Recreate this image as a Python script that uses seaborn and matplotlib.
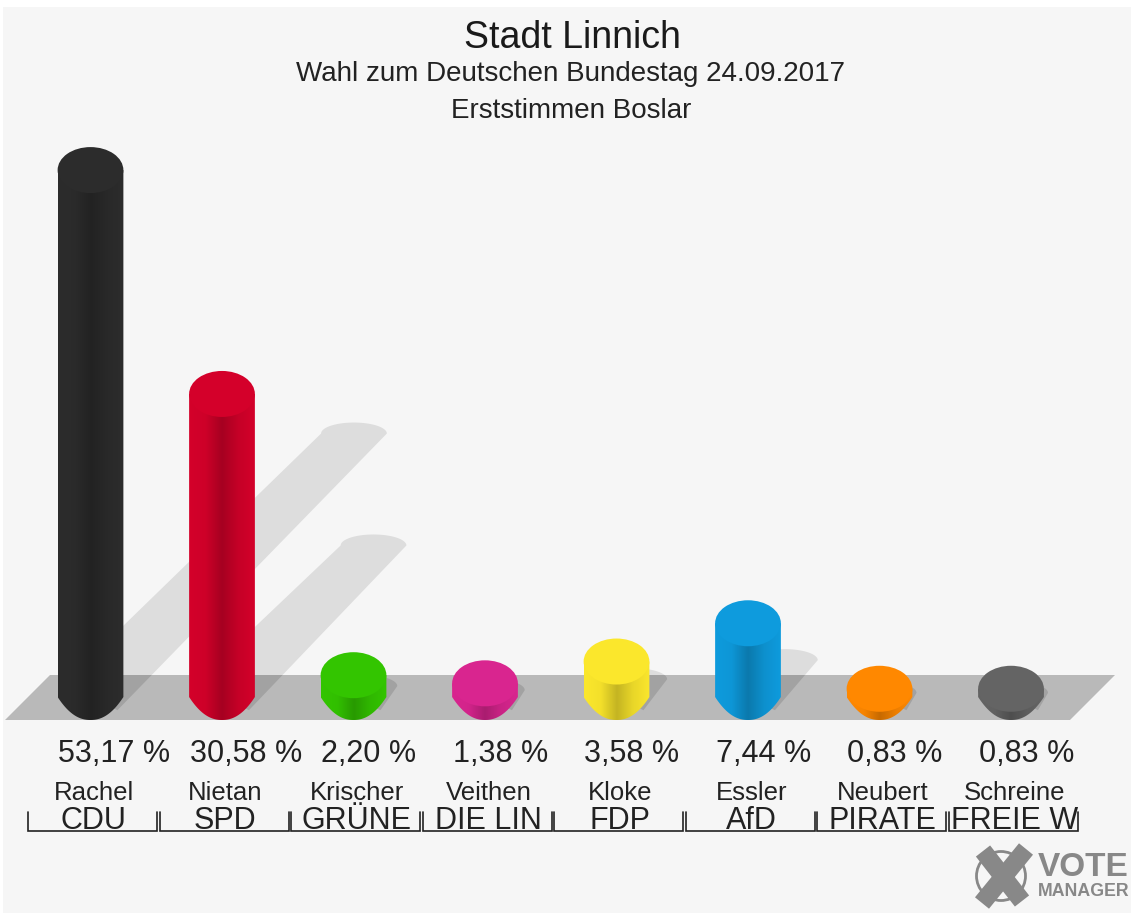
"""
Wahl zum Deutschen Bundestag - Erststimmen Boslar (3D style bars)
"""

import numpy as np
import pandas as pd
import matplotlib
matplotlib.use("Agg")
import matplotlib.pyplot as plt
import seaborn as sns
from matplotlib.colors import LinearSegmentedColormap, to_rgb
from matplotlib.patches import Ellipse, Polygon, Rectangle

# Data
CANDIDATES = ['Rachel', 'Nietan', 'Krischer', 'Veithen', 'Kloke', 'Essler', 'Neubert', 'Schreine']
PARTIES = ['CDU', 'SPD', 'GRÜNE', 'DIE LIN', 'FDP', 'AfD', 'PIRATE', 'FREIE W']
VALUES = [53.17, 30.58, 2.20, 1.38, 3.58, 7.44, 0.83, 0.83]
VALUE_LABELS = ['53,17 %', '30,58 %', '2,20 %', '1,38 %', '3,58 %', '7,44 %', '0,83 %', '0,83 %']
COLORS = ['#2c2c2c', '#d4002a', '#33c500', '#d9258f', '#fbe72c', '#0e9bdd', '#ff8800', '#646464']

# Layout, in pixels of the 1131x913 picture
W, H = 1131, 913
X0, DX = 90.5, 131.5     # first bar centre, bar spacing
Y0, PX_PER_PCT = 697, 9.91   # base of the bars, pixels per percent
BAR_W = 0.5
CAP_H = 46 / PX_PER_PCT
TIP_H = 22 / PX_PER_PCT  # flattened far end of a shadow
FONT = 'Liberation Sans'


def px_x(x):
    return (x - X0) / DX


def px_y(y):
    return (Y0 - y) / PX_PER_PCT


df = pd.DataFrame({'kandidat': CANDIDATES, 'stimmen': VALUES})

sns.set_theme(style='white')
plt.rcParams['font.family'] = FONT

fig = plt.figure(figsize=(W / 100, H / 100), dpi=100, facecolor='white')
ax = fig.add_axes([0, 0, 1, 1])
ax.set_facecolor('white')

sns.barplot(data=df, x='kandidat', y='stimmen', hue='kandidat', palette=COLORS,
            width=BAR_W, saturation=1, legend=False, dodge=False, ax=ax, zorder=5)

# Background and floor
ax.add_patch(Rectangle((px_x(3), px_y(H)), (W - 3) / DX, (H - 7) / PX_PER_PCT,
                       fc='#f6f6f6', ec='none', zorder=0))
floor_xy = [(px_x(5), px_y(720)), (px_x(50), px_y(675)),
            (px_x(1115), px_y(675)), (px_x(1070), px_y(720))]
floor = Polygon(floor_xy, fc='#b9b9b9', ec='none', zorder=2)
ax.add_patch(floor)

# Shadows: band from the bar base up and to the right, length follows the value
for i, v in enumerate(VALUES):
    sx = v * PX_PER_PCT * 0.5 / DX
    sy = v * 0.5
    phi = np.arctan2(sy / CAP_H, sx / BAR_W)
    back = np.array([phi + np.pi / 2, phi + 3 * np.pi / 2])  # hidden by the bar
    tip = np.linspace(0, np.pi, 60)
    xy = np.vstack([
        np.column_stack([i + BAR_W / 2 * np.cos(back), CAP_H / 2 * np.sin(back)]),
        np.column_stack([i + sx + BAR_W / 2 * np.cos(tip), sy + TIP_H / 2 * np.sin(tip)]),
    ])
    ax.add_patch(Polygon(xy, fc='#dddddd', ec='none', zorder=1))
    dark = Polygon(xy, fc='#a2a2a2', ec='none', zorder=3)
    ax.add_patch(dark)
    dark.set_clip_path(floor)

# Cylinders
for i, (container, col) in enumerate(zip(ax.containers, COLORS)):
    bar = container[0]
    bar.set_visible(False)
    v = VALUES[i]
    rgb = np.array(to_rgb(col))
    cmap = LinearSegmentedColormap.from_list(
        f'cyl{i}', [rgb, rgb * 0.97, rgb * 0.78, rgb * 0.93, rgb])
    grad = np.linspace(0, 1, 128).reshape(1, -1)
    img = ax.imshow(grad, cmap=cmap, extent=[i - BAR_W / 2, i + BAR_W / 2, -CAP_H / 2, v],
                    aspect='auto', zorder=5, interpolation='bilinear')
    # side outline, the bottom tapers towards the middle
    u = np.linspace(1, -1, 81)
    lower = np.column_stack([i + BAR_W / 2 * u, -CAP_H / 2 * (1 - np.abs(u) ** 2.2)])
    outline = np.vstack([[[i + BAR_W / 2, v]], lower, [[i - BAR_W / 2, v]]])
    clip = Polygon(outline, transform=ax.transData, fc='none', ec='none')
    ax.add_patch(clip)
    img.set_clip_path(clip)
    # flat top
    ax.add_patch(Ellipse((i, v), BAR_W, CAP_H, fc=col, ec='none', zorder=6))

    # Texts
    ax.text(i - BAR_W / 2 + 0.005, px_y(754), VALUE_LABELS[i], fontsize=22, color='#222222',
            ha='left', va='center')
    ax.text(i + 0.026, px_y(793), CANDIDATES[i], fontsize=18.5, color='#222222',
            ha='center', va='center')
    ax.text(i + 0.026, px_y(821), PARTIES[i], fontsize=22, color='#222222',
            ha='center', va='center')

    # Bracket under the names
    left, right = i + px_x(28), i + px_x(157)
    ax.plot([left, left, right, right],
            [px_y(812), px_y(830.5), px_y(830.5), px_y(812)],
            color='#222222', lw=1.2, solid_joinstyle='miter', zorder=7)

# Titles
ax.text(px_x(572), px_y(38), 'Stadt Linnich', fontsize=27, color='#1a1a1a', ha='center', va='center')
ax.text(px_x(571), px_y(74), 'Wahl zum Deutschen Bundestag 24.09.2017', fontsize=20, color='#222222',
        ha='center', va='center')
ax.text(px_x(571), px_y(111), 'Erststimmen Boslar', fontsize=20, color='#222222',
        ha='center', va='center')

# Logo
LOGO = '#888888'
ax.add_patch(Ellipse((px_x(1001), px_y(876)), 49 / DX, 49 / PX_PER_PCT, fc='none', ec=LOGO, lw=2, zorder=7))
ax.plot([px_x(983), px_x(1022)], [px_y(851), px_y(901)], color=LOGO, lw=13, solid_capstyle='butt', zorder=8)
ax.plot([px_x(1026), px_x(982)], [px_y(849), px_y(903)], color=LOGO, lw=13, solid_capstyle='butt', zorder=8)
ax.text(px_x(1038), px_y(867), 'VOTE', fontsize=24, fontweight='bold', color=LOGO, ha='left', va='center')
ax.text(px_x(1038), px_y(891), 'MANAGER', fontsize=12.8, fontweight='bold', color=LOGO, ha='left', va='center')

ax.set_xlim(px_x(0), px_x(W))
ax.set_ylim(px_y(H), px_y(0))
ax.axis('off')

fig.savefig('out.png', dpi=100)
plt.close(fig)
